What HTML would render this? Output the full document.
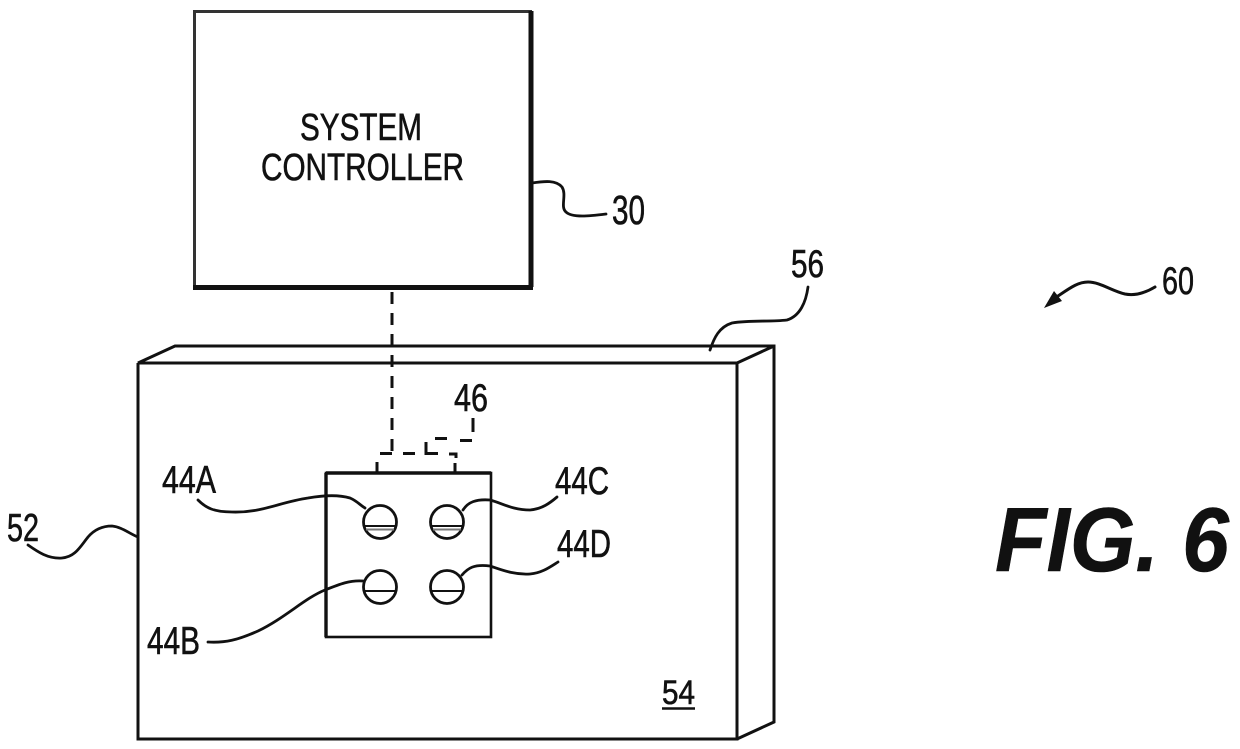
<!DOCTYPE html>
<html>
<head>
<meta charset="utf-8">
<style>
html,body{margin:0;padding:0;background:#fff;width:1240px;height:749px;overflow:hidden}
svg{display:block}
text{font-family:"Liberation Sans",sans-serif;fill:#111;stroke:#111;stroke-width:0.6}
.l{fill:none;stroke:#111;stroke-width:2.8;stroke-linecap:round}
.b{fill:none;stroke:#111;stroke-width:3;stroke-linecap:butt}
.c{fill:#fff;stroke:#111;stroke-width:2.8}
</style>
</head>
<body>
<svg width="1240" height="749" viewBox="0 0 1240 749" xmlns="http://www.w3.org/2000/svg">
<!-- controller -->
<rect x="194.500" y="11.500" width="336" height="275" fill="#fff" stroke="#333" stroke-width="3"/>
<path d="M531,11 V287 M193,287.500 H533" fill="none" stroke="#111" stroke-width="5"/>
<text x="300" y="140" font-size="38" textLength="122" lengthAdjust="spacingAndGlyphs">SYSTEM</text>
<text x="261" y="180" font-size="38" textLength="203" lengthAdjust="spacingAndGlyphs">CONTROLLER</text>
<path class="l" d="M532,183 C545,181 556,180 562,187 C567,195 560,207 566,212 C572,218 590,216 606,214"/>
<text x="612" y="224" font-size="41" textLength="33" lengthAdjust="spacingAndGlyphs">30</text>

<!-- box -->
<path d="M138,363 L175,346 H774 V722 L737,739 H138 Z" fill="#fff" stroke="none"/>
<path class="b" d="M138,363 V739 H737 V363 H138 L175,346 H774 V722 L737,739 M737,363 L774,346" stroke-width="3.200"/>

<!-- dashed connector -->
<path class="b" stroke-dasharray="12 9" d="M392,292 V455" stroke-width="3"/>
<path class="b" stroke-width="3" d="M380,453.500 H392 M403,453.500 H415 M426,442 V453.500 H438 M435,438.500 H447 M449,454 H456 V458 M460,440.500 H472 M473,418 V432 M377,462 V473 M455,463 V473"/>

<!-- panel -->
<rect x="326" y="473" width="165" height="164" fill="#fff" stroke="#111" stroke-width="2.600"/>
<path d="M326,473 V637 M326,473 H491" fill="none" stroke="#111" stroke-width="3.400"/>

<!-- leaders -->
<path class="l" d="M198,500 C206,508 214,512 232,512 C262,513 280,502 308,498 C325,495 340,495 350,498 C357,501 360,505 365,508"/>
<path class="l" d="M208,642 C225,643 238,640 258,631 C285,618 305,598 325,590 C340,584 350,580 363,581"/>
<path class="l" d="M463,510 C468,502 476,499 490,500 C502,503 512,510 530,510 C542,509 550,503 557,497"/>
<path class="l" d="M462,575 C468,568 474,564 490,566 C502,570 514,575 530,574 C542,573 550,567 558,562"/>
<path class="l" d="M28,545 C38,552 48,559 62,558 C75,557 80,547 88,537 C94,530 102,526 112,526 C122,527 130,534 138,537"/>
<path class="l" d="M710,350 C714,338 719,327 732,323 C750,320 770,322 787,320 C800,316 806,302 808,287"/>

<!-- circles -->
<g>
<circle class="c" cx="380" cy="522" r="16.500"/>
<circle class="c" cx="447" cy="522" r="16.500"/>
<circle class="c" cx="380" cy="587" r="16.500"/>
<circle class="c" cx="447" cy="587" r="16.500"/>
<path fill="none" stroke="#111" stroke-width="2" d="M364,526 H396 M431,526 H463 M364,591 H396 M431,591 H463"/>
<path fill="none" stroke="#777" stroke-width="2" d="M366,529.500 H394 M433,529.500 H461"/>
</g>

<!-- labels -->
<text x="162" y="493" font-size="39" textLength="54" lengthAdjust="spacingAndGlyphs">44A</text>
<text x="555" y="494" font-size="39" textLength="54" lengthAdjust="spacingAndGlyphs">44C</text>
<text x="557" y="557" font-size="39" textLength="54" lengthAdjust="spacingAndGlyphs">44D</text>
<text x="147" y="654" font-size="39" textLength="53" lengthAdjust="spacingAndGlyphs">44B</text>
<text x="454" y="411" font-size="39" textLength="34" lengthAdjust="spacingAndGlyphs">46</text>
<text x="7" y="541" font-size="39" textLength="32" lengthAdjust="spacingAndGlyphs">52</text>
<text x="791" y="277" font-size="39" textLength="33" lengthAdjust="spacingAndGlyphs">56</text>
<text x="1162" y="294" font-size="39" textLength="32" lengthAdjust="spacingAndGlyphs">60</text>
<text x="662" y="704" font-size="34" textLength="33" lengthAdjust="spacingAndGlyphs">54</text>
<path d="M662,708.500 H695" stroke="#111" stroke-width="2.400"/>

<!-- 60 arrow -->
<path d="M1155,287 C1145,293 1135,296 1125,294 C1112,291 1100,282 1088,282 C1078,282 1070,288 1058,296" fill="none" stroke="#111" stroke-width="3" stroke-linecap="round"/>
<path d="M1044,308 L1054,291 L1062,301 Z" fill="#111"/>

<!-- FIG -->
<text x="995" y="571" font-size="91" font-weight="bold" font-style="italic" textLength="234" lengthAdjust="spacingAndGlyphs" fill="#1c1c1c">FIG. 6</text>
</svg>
</body>
</html>
